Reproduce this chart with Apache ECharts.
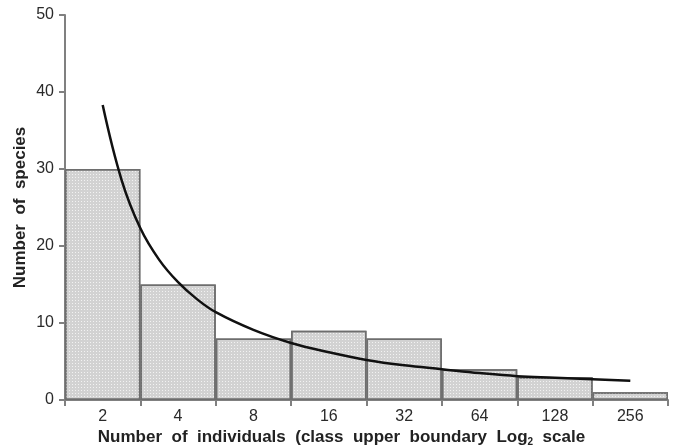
<!DOCTYPE html>
<html>
<head>
<meta charset="utf-8">
<script src="https://cdn.jsdelivr.net/npm/echarts@6/dist/echarts.min.js"></script>
<style>
  html, body { margin: 0; padding: 0; background: #fff; }
  #main { width: 677px; height: 447px; }
</style>
</head>
<body>
<div id="main"></div>
<script>
var classLabels = ['2', '4', '8', '16', '32', '64', '128', '256'];
var speciesCounts = [30, 15, 8, 9, 8, 4, 3, 1];
// fitted curve, x in class units (0 = left edge of first class)
var curveX = [0.5, 0.75, 1.0, 1.25, 1.5, 1.75, 2.0, 2.5, 3.0, 3.5, 4.0, 4.5, 5.0, 5.5, 6.0, 6.5, 7.0, 7.5];
var curveY = [38.3, 28.6, 22.3, 18.2, 15.3, 13.1, 11.4, 9.1, 7.4, 6.2, 5.2, 4.5, 4.0, 3.5, 3.1, 2.9, 2.7, 2.5];

var curveData = curveX.map(function (x, i) { return [x, curveY[i]]; });

var dom = document.getElementById('main');
var myChart = echarts.init(dom);

var font = 'Liberation Sans';

var option = {
    animation: false,
    grid: { left: 65, right: 9, top: 15, bottom: 47, outerBoundsMode: 'none', containLabel: false },
    xAxis: [
        {
            type: 'category',
            data: classLabels,
            boundaryGap: true,
            axisLine: { lineStyle: { color: '#808080', width: 2 } },
            axisTick: { show: true, length: 6, lineStyle: { color: '#808080', width: 2 } },
            axisLabel: { color: '#2a2a2a', fontSize: 16, fontFamily: font, margin: 9 },
            name: '{a|Number  of  individuals  (class  upper  boundary  Log}{s|2}{a|  scale}',
            nameLocation: 'middle',
            nameGap: 28,
            nameMoveOverlap: false,
            nameTextStyle: {
                padding: [0, 50, 0, 0],
                rich: {
                    a: { fontSize: 17, fontWeight: 'bold', color: '#222', fontFamily: font },
                    s: { fontSize: 10, fontWeight: 'bold', color: '#222', fontFamily: font, verticalAlign: 'bottom', padding: [9, 0, 0, 0] }
                }
            }
        },
        {
            type: 'value',
            min: 0,
            max: 8,
            show: false
        }
    ],
    yAxis: {
        type: 'value',
        min: 0,
        max: 50,
        interval: 10,
        axisLine: { show: true, lineStyle: { color: '#808080', width: 2 } },
        axisTick: { show: true, length: 6, lineStyle: { color: '#808080', width: 2 } },
        splitLine: { show: false },
        axisLabel: { color: '#2a2a2a', fontSize: 16, fontFamily: font, margin: 11 },
        name: 'Number  of  species',
        nameLocation: 'middle',
        nameGap: 36,
        nameMoveOverlap: false,
        nameTextStyle: { fontSize: 17, fontWeight: 'bold', color: '#222', fontFamily: font }
    },
    series: [
        {
            type: 'bar',
            data: speciesCounts,
            barWidth: '100%',
            barCategoryGap: 0,
            itemStyle: {
                color: '#d2d2d2',
                borderColor: '#6e6e6e',
                borderWidth: 1.5,
                decal: {
                    symbol: 'rect',
                    symbolSize: 1,
                    color: 'rgba(245,245,245,0.9)',
                    dashArrayX: [1, 2],
                    dashArrayY: [1, 2],
                    rotation: 0
                }
            }
        },
        {
            type: 'line',
            xAxisIndex: 1,
            data: curveData,
            smooth: 0.4,
            symbol: 'none',
            lineStyle: { color: '#111', width: 2.5 }
        }
    ]
};

if (option && typeof option === 'object') {
    myChart.setOption(option, true);
}
</script>
</body>
</html>
